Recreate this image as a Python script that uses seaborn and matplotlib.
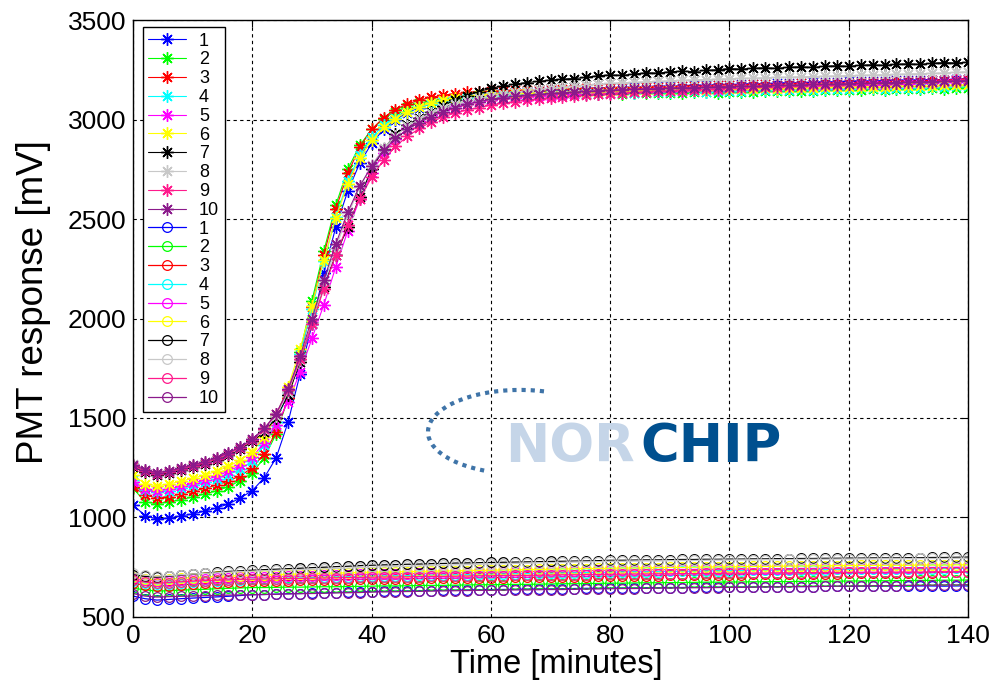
import numpy as np
import pandas as pd
import matplotlib
matplotlib.use("Agg")
import matplotlib.pyplot as plt
from matplotlib.patches import Arc
import seaborn as sns

# ---------------- data ----------------
time_min = list(range(0, 141, 2))

star_1 = [1063, 1010, 992, 998, 1008, 1018, 1032, 1048, 1068, 1098,
          1135, 1200, 1300, 1480, 1720, 1970, 2230, 2460, 2640, 2780,
          2880, 2950, 3000, 3035, 3060, 3078, 3092, 3103, 3112, 3120,
          3128, 3133, 3137, 3140, 3144, 3146, 3150, 3152, 3153, 3157,
          3158, 3160, 3163, 3161, 3166, 3168, 3167, 3171, 3172, 3175,
          3174, 3178, 3180, 3179, 3183, 3185, 3184, 3188, 3190, 3189,
          3192, 3194, 3193, 3196, 3198, 3197, 3200, 3201, 3199, 3203, 3205]
star_2 = [1148, 1078, 1070, 1078, 1090, 1103, 1118, 1134, 1155, 1185,
          1225, 1300, 1420, 1600, 1830, 2090, 2340, 2570, 2750, 2870,
          2950, 3005, 3040, 3065, 3082, 3094, 3103, 3110, 3115, 3118,
          3120, 3122, 3121, 3124, 3125, 3123, 3127, 3128, 3126, 3130,
          3131, 3129, 3132, 3133, 3131, 3135, 3134, 3136, 3137, 3135,
          3139, 3140, 3138, 3142, 3141, 3144, 3145, 3143, 3147, 3148,
          3146, 3150, 3151, 3149, 3153, 3152, 3155, 3156, 3154, 3158, 3160]
star_3 = [1155, 1113, 1098, 1105, 1118, 1132, 1147, 1163, 1183, 1210,
          1250, 1320, 1430, 1600, 1810, 2060, 2320, 2550, 2730, 2860,
          2950, 3010, 3050, 3078, 3098, 3112, 3122, 3130, 3136, 3140,
          3142, 3145, 3147, 3146, 3150, 3152, 3151, 3155, 3157, 3156,
          3160, 3161, 3160, 3164, 3165, 3163, 3168, 3169, 3167, 3172,
          3173, 3171, 3176, 3177, 3175, 3180, 3181, 3179, 3184, 3185,
          3183, 3188, 3190, 3188, 3193, 3194, 3192, 3197, 3199, 3201, 3205]
star_4 = [1188, 1140, 1128, 1135, 1148, 1162, 1177, 1195, 1215, 1242,
          1285, 1365, 1480, 1630, 1820, 2050, 2290, 2510, 2690, 2820,
          2910, 2970, 3010, 3040, 3062, 3078, 3090, 3100, 3108, 3115,
          3120, 3123, 3125, 3124, 3127, 3129, 3128, 3131, 3133, 3132,
          3135, 3136, 3134, 3138, 3139, 3137, 3141, 3142, 3140, 3144,
          3145, 3143, 3147, 3148, 3146, 3150, 3151, 3149, 3153, 3154,
          3152, 3156, 3157, 3155, 3159, 3160, 3158, 3162, 3164, 3166, 3170]
star_5 = [1180, 1142, 1135, 1143, 1157, 1172, 1188, 1207, 1232, 1262,
          1305, 1375, 1465, 1580, 1730, 1900, 2070, 2260, 2440, 2600,
          2730, 2830, 2900, 2955, 2995, 3025, 3048, 3066, 3080, 3092,
          3100, 3106, 3110, 3113, 3117, 3120, 3122, 3126, 3128, 3130,
          3133, 3135, 3136, 3139, 3141, 3142, 3145, 3146, 3147, 3150,
          3151, 3152, 3155, 3156, 3157, 3160, 3162, 3163, 3166, 3167,
          3169, 3172, 3174, 3175, 3178, 3180, 3182, 3185, 3188, 3191, 3195]
star_6 = [1213, 1170, 1160, 1168, 1182, 1197, 1213, 1232, 1257, 1288,
          1330, 1405, 1510, 1655, 1845, 2065, 2295, 2505, 2675, 2805,
          2895, 2960, 3005, 3040, 3065, 3083, 3097, 3108, 3116, 3123,
          3128, 3130, 3133, 3132, 3135, 3137, 3136, 3139, 3140, 3139,
          3142, 3144, 3143, 3146, 3147, 3146, 3149, 3150, 3149, 3152,
          3153, 3152, 3155, 3156, 3155, 3158, 3159, 3158, 3161, 3162,
          3161, 3164, 3165, 3164, 3167, 3168, 3167, 3170, 3171, 3172, 3175]
star_7 = [1255, 1228, 1213, 1222, 1237, 1252, 1268, 1288, 1312, 1343,
          1383, 1430, 1500, 1615, 1780, 1975, 2160, 2320, 2460, 2610,
          2750, 2850, 2925, 2972, 3008, 3040, 3070, 3098, 3120, 3140,
          3158, 3168, 3178, 3186, 3192, 3198, 3203, 3206, 3212, 3220,
          3224, 3222, 3228, 3235, 3233, 3240, 3243, 3241, 3247, 3250,
          3256, 3253, 3258, 3260, 3257, 3263, 3265, 3262, 3268, 3270,
          3267, 3273, 3275, 3272, 3278, 3280, 3277, 3283, 3286, 3284, 3288]
star_8 = [1268, 1240, 1225, 1232, 1246, 1261, 1277, 1297, 1321, 1352,
          1392, 1442, 1512, 1630, 1790, 1975, 2170, 2355, 2520, 2660,
          2770, 2855, 2918, 2965, 3002, 3032, 3056, 3076, 3092, 3106,
          3118, 3128, 3137, 3145, 3152, 3158, 3163, 3168, 3172, 3177,
          3182, 3184, 3187, 3190, 3192, 3195, 3197, 3199, 3201, 3203,
          3205, 3207, 3208, 3210, 3212, 3213, 3215, 3216, 3218, 3219,
          3221, 3222, 3224, 3225, 3227, 3229, 3230, 3232, 3234, 3237, 3240]
star_9 = [1260, 1235, 1220, 1229, 1244, 1259, 1275, 1295, 1320, 1350,
          1390, 1445, 1520, 1640, 1795, 1970, 2150, 2320, 2470, 2600,
          2710, 2795, 2865, 2915, 2955, 2988, 3013, 3033, 3048, 3060,
          3072, 3082, 3090, 3097, 3103, 3109, 3114, 3118, 3122, 3126,
          3130, 3133, 3136, 3139, 3142, 3145, 3147, 3150, 3152, 3155,
          3157, 3159, 3161, 3163, 3165, 3167, 3169, 3171, 3173, 3175,
          3177, 3179, 3181, 3183, 3185, 3187, 3189, 3191, 3194, 3197, 3200]
star_10 = [1265, 1240, 1226, 1234, 1249, 1264, 1280, 1300, 1325, 1355,
           1395, 1448, 1522, 1645, 1810, 2000, 2195, 2375, 2535, 2665,
           2765, 2845, 2905, 2950, 2985, 3015, 3040, 3060, 3076, 3090,
           3102, 3110, 3117, 3122, 3127, 3131, 3135, 3138, 3141, 3144,
           3147, 3149, 3151, 3153, 3155, 3157, 3159, 3160, 3162, 3164,
           3165, 3167, 3168, 3170, 3171, 3173, 3174, 3176, 3177, 3179,
           3180, 3182, 3183, 3185, 3186, 3188, 3189, 3191, 3192, 3194, 3195]

circ_1 = [605, 592, 585, 588, 592, 595, 598, 601, 604, 608,
          612, 613, 615, 617, 618, 620, 622, 623, 625, 626,
          628, 629, 630, 631, 632, 633, 634, 635, 636, 637,
          638, 638, 639, 640, 641, 641, 642, 643, 644, 644,
          645, 646, 646, 647, 647, 648, 648, 649, 649, 650,
          650, 651, 651, 652, 652, 653, 653, 653, 654, 654,
          654, 655, 655, 655, 656, 655, 656, 656, 655, 656, 656]
circ_2 = [645, 636, 630, 632, 635, 637, 639, 642, 644, 646,
          648, 648, 649, 650, 650, 651, 652, 652, 653, 654,
          655, 656, 656, 657, 658, 659, 659, 660, 661, 662,
          662, 663, 664, 664, 665, 666, 667, 667, 668, 669,
          670, 670, 671, 672, 672, 673, 673, 674, 675, 675,
          676, 676, 677, 677, 678, 678, 679, 679, 680, 680,
          681, 681, 682, 682, 683, 683, 684, 684, 685, 685, 686]
circ_3 = [670, 660, 655, 658, 662, 665, 669, 672, 675, 678,
          680, 681, 682, 683, 684, 685, 686, 687, 688, 689,
          690, 691, 691, 692, 693, 694, 694, 695, 696, 697,
          697, 698, 699, 699, 700, 701, 702, 702, 703, 704,
          705, 706, 706, 707, 708, 709, 709, 710, 711, 712,
          712, 713, 714, 714, 715, 716, 716, 717, 718, 718,
          719, 720, 720, 721, 721, 722, 722, 723, 724, 724, 725]
circ_4 = [680, 670, 665, 668, 672, 675, 679, 682, 685, 688,
          690, 692, 693, 695, 696, 698, 699, 701, 702, 704,
          705, 706, 707, 708, 709, 710, 711, 712, 713, 714,
          715, 716, 717, 718, 719, 720, 721, 722, 723, 724,
          725, 726, 727, 727, 728, 729, 730, 730, 731, 732,
          733, 733, 734, 735, 735, 736, 737, 737, 738, 739,
          739, 740, 740, 741, 741, 742, 742, 743, 743, 744, 745]
circ_5 = [695, 685, 680, 683, 686, 689, 692, 695, 697, 699,
          700, 702, 703, 705, 706, 708, 709, 711, 712, 714,
          715, 716, 717, 718, 719, 720, 721, 722, 723, 724,
          725, 726, 727, 728, 729, 730, 731, 732, 733, 734,
          735, 735, 736, 737, 737, 738, 739, 739, 740, 740,
          741, 741, 742, 742, 743, 743, 744, 744, 745, 745,
          746, 746, 747, 747, 748, 748, 748, 749, 749, 750, 750]
circ_6 = [702, 692, 688, 691, 695, 698, 701, 704, 706, 708,
          710, 712, 713, 715, 716, 718, 719, 721, 722, 724,
          725, 726, 727, 728, 729, 730, 731, 732, 733, 734,
          735, 736, 737, 738, 739, 740, 741, 742, 743, 744,
          745, 746, 746, 747, 748, 749, 749, 750, 751, 752,
          752, 753, 754, 754, 755, 756, 756, 757, 757, 758,
          758, 759, 759, 760, 760, 760, 761, 761, 761, 762, 762]
circ_7 = [712, 704, 700, 705, 710, 715, 720, 725, 729, 732,
          735, 738, 740, 743, 745, 748, 750, 753, 755, 758,
          760, 762, 763, 765, 766, 768, 769, 771, 772, 773,
          774, 775, 776, 777, 778, 779, 780, 781, 782, 783,
          785, 785, 786, 787, 787, 788, 789, 789, 790, 790,
          791, 791, 792, 792, 793, 793, 794, 794, 795, 795,
          796, 796, 797, 797, 797, 798, 798, 799, 799, 800, 801]
circ_8 = [722, 710, 705, 708, 712, 716, 719, 722, 725, 728,
          730, 732, 734, 736, 738, 740, 742, 744, 746, 748,
          750, 752, 753, 755, 757, 758, 760, 762, 763, 765,
          766, 768, 769, 770, 772, 773, 774, 776, 777, 778,
          780, 780, 781, 782, 782, 783, 784, 784, 785, 786,
          786, 787, 787, 788, 788, 789, 789, 790, 790, 791,
          791, 792, 792, 793, 793, 793, 794, 794, 794, 795, 795]
circ_9 = [686, 675, 670, 673, 677, 680, 683, 685, 687, 689,
          690, 691, 692, 693, 694, 695, 696, 697, 698, 699,
          700, 701, 701, 702, 703, 704, 704, 705, 706, 707,
          707, 708, 709, 709, 710, 711, 712, 712, 713, 714,
          715, 715, 716, 716, 717, 717, 718, 718, 719, 719,
          720, 720, 721, 721, 722, 722, 723, 723, 724, 724,
          724, 725, 725, 725, 726, 726, 726, 727, 727, 727, 728]
circ_10 = [618, 605, 600, 602, 604, 605, 607, 608, 610, 611,
           612, 613, 614, 616, 617, 618, 619, 621, 622, 623,
           625, 626, 627, 628, 629, 630, 631, 632, 633, 634,
           634, 635, 636, 636, 637, 638, 638, 639, 640, 641,
           642, 643, 643, 644, 645, 645, 646, 647, 647, 648,
           649, 649, 650, 651, 651, 652, 653, 653, 654, 655,
           655, 656, 657, 657, 658, 659, 659, 660, 661, 661, 662]

series_labels = ["1", "2", "3", "4", "5", "6", "7", "8", "9", "10"]
series_colors = ["#0000FF", "#00FF00", "#FF0000", "#00FFFF", "#FF00FF",
                 "#FFFF00", "#000000", "#C8C8C8", "#FF1A8C", "#8B1A8B"]
star_series = [star_1, star_2, star_3, star_4, star_5,
               star_6, star_7, star_8, star_9, star_10]
circ_series = [circ_1, circ_2, circ_3, circ_4, circ_5,
               circ_6, circ_7, circ_8, circ_9, circ_10]

x_ticks = [0, 20, 40, 60, 80, 100, 120, 140]
y_ticks = [500, 1000, 1500, 2000, 2500, 3000, 3500]

# ---------------- plot ----------------
sns.set_theme(style="white")
plt.rcParams["font.family"] = ["Liberation Sans", "DejaVu Sans"]
plt.rcParams["text.color"] = "black"
plt.rcParams["axes.labelcolor"] = "black"

fig = plt.figure(figsize=(10.04, 6.81), dpi=100)
ax = fig.add_axes([0.1325, 0.094, 0.8317, 0.8766])

asterisk = (8, 2, 0)
for vals, lab, col in zip(star_series, series_labels, series_colors):
    df = pd.DataFrame({"t": time_min, "v": vals})
    sns.lineplot(data=df, x="t", y="v", ax=ax, color=col, label=lab,
                 marker=asterisk, markersize=9, markeredgewidth=1.0,
                 markeredgecolor=col, linewidth=0.8, estimator=None,
                 legend=False)
for vals, lab, col in zip(circ_series, series_labels, series_colors):
    df = pd.DataFrame({"t": time_min, "v": vals})
    sns.lineplot(data=df, x="t", y="v", ax=ax, color=col, label=lab,
                 marker="o", markersize=7, markerfacecolor="none",
                 markeredgecolor=col, markeredgewidth=0.9, linewidth=0.9,
                 estimator=None, legend=False)

ax.set_xlim(0, 140)
ax.set_ylim(500, 3500)
ax.set_xticks(x_ticks)
ax.set_yticks(y_ticks)
ax.set_xticklabels([str(v) for v in x_ticks], fontsize=19)
ax.set_yticklabels([str(v) for v in y_ticks], fontsize=19)
ax.tick_params(direction="in", length=5, width=0.8, top=True, right=True,
               colors="black", pad=5)
ax.grid(True, color="black", linestyle=(0, (3, 3)), linewidth=0.8)
for sp in ax.spines.values():
    sp.set_color("black")
    sp.set_linewidth(1.0)

ax.set_xlabel("Time [minutes]", fontsize=23.5, labelpad=0, color="black")
ax.set_ylabel("PMT response [mV]", fontsize=26.5, color="black")
ax.yaxis.set_label_coords(-0.098, 0.528)
ax.xaxis.set_label_coords(0.5066, -0.053)

# legend
handles, labels = ax.get_legend_handles_labels()
leg = ax.legend(handles, labels, loc="upper left",
                bbox_to_anchor=(0.012, 0.988), borderaxespad=0,
                fontsize=13, labelspacing=0.1, handlelength=2.1,
                handletextpad=0.7, borderpad=0.3, fancybox=False,
                framealpha=1, edgecolor="black")
leg.get_frame().set_linewidth(1.0)
for txt in leg.get_texts():
    txt.set_color("black")

# NORCHIP logo (decoration): dotted swoosh + wordmark
arc_w, arc_h = 30.9, 422.0
def _geo_angle(t_deg):
    t = np.deg2rad(t_deg)
    return np.rad2deg(np.arctan2(arc_h * np.sin(t), arc_w * np.cos(t))) % 360
ax.add_patch(Arc((64.9, 1430), arc_w, arc_h,
                 theta1=_geo_angle(75), theta2=_geo_angle(250),
                 color="#3F74A8", linewidth=3, linestyle=(0, (1, 1.2))))
ax.text(62.4, 1279, "NOR", color="#C5D5E8", fontsize=38, fontweight="bold",
        family="DejaVu Sans", ha="left", va="baseline")
ax.text(85.0, 1279, "CHIP", color="#00508F", fontsize=38, fontweight="bold",
        family="DejaVu Sans", ha="left", va="baseline")

fig.savefig("out.png", dpi=100)
